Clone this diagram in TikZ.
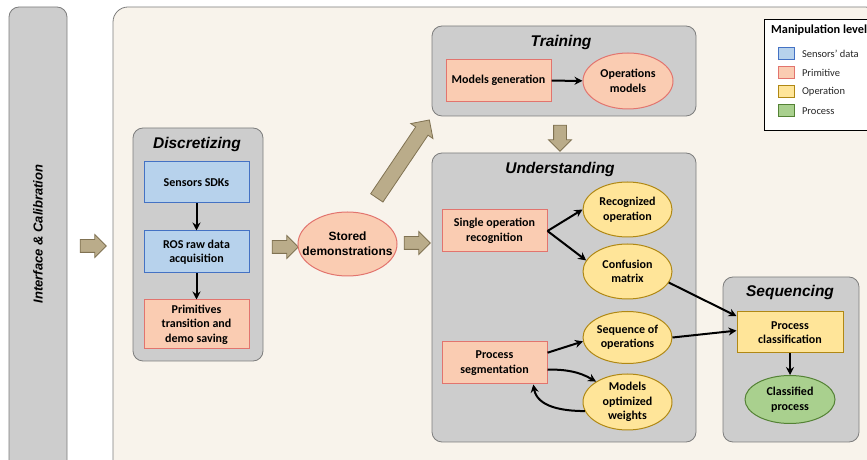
\documentclass[tikz,border=0pt]{standalone}
\usepackage{xcolor}
\usepackage{fontspec}
\setmainfont{Carlito}
\newfontfamily\headfont{Liberation Sans}
\usetikzlibrary{shapes.geometric, shapes.arrows, positioning, arrows.meta}

\definecolor{panelbg}{RGB}{248,243,235}
\definecolor{stagegray}{RGB}{205,205,205}
\definecolor{stageedge}{RGB}{125,125,125}
\definecolor{sensfill}{RGB}{183,210,236}
\definecolor{sensedge}{RGB}{68,114,196}
\definecolor{primfill}{RGB}{250,204,178}
\definecolor{primedge}{RGB}{226,116,110}
\definecolor{opfill}{RGB}{255,229,153}
\definecolor{opedge}{RGB}{176,136,20}
\definecolor{procfill}{RGB}{169,208,142}
\definecolor{procedge}{RGB}{84,130,53}
\definecolor{fatfill}{RGB}{186,172,138}
\definecolor{fatedge}{RGB}{128,114,82}

\tikzset{x=1pt, y=1pt,
         >={Stealth[length=8pt,width=8pt]},
         flow/.style={->, line width=2pt},
         stage/.style={draw=stageedge, fill=stagegray, rounded corners=10pt, line width=0.8pt},
         stagetitle/.style={font=\headfont\bfseries\itshape\fontsize{15.5}{16}\selectfont},
         box/.style={rectangle, line width=1pt, minimum width=105pt, minimum height=42pt,
                     align=center, inner sep=2pt, font=\bfseries\fontsize{12}{14.5}\selectfont},
         oval/.style={box, ellipse, minimum width=89pt, minimum height=55pt, inner sep=0pt},
         sensbox/.style={box, draw=sensedge, fill=sensfill},
         primbox/.style={box, draw=primedge, fill=primfill},
         opbox/.style={box, draw=opedge, fill=opfill},
         primoval/.style={oval, draw=primedge, fill=primfill},
         opoval/.style={oval, draw=opedge, fill=opfill},
         procoval/.style={oval, draw=procedge, fill=procfill},
         fat/.style={single arrow, draw=fatedge, fill=fatfill, line width=0.8pt,
                     minimum height=26pt, inner xsep=0pt, inner ysep=6pt,
                     single arrow head extend=5pt},
         swatch/.style={rectangle, line width=1pt, minimum width=16pt, minimum height=12pt, inner sep=0pt},
         legendtext/.style={anchor=west, font=\fontsize{10.5}{12}\selectfont, text=black!85},
         }

\begin{document}
\begin{tikzpicture}
    \useasboundingbox (0,0) rectangle (867,460);
    \clip (0,0) rectangle (867,460);

    % side bar and main panel
    \node[stage, minimum width=58pt, minimum height=463pt] (calib) at (38,221.5) {};
    \node[rotate=90, font=\headfont\bfseries\itshape\fontsize{13}{14}\selectfont] (calibtext) at (38,226) {Interface \& Calibration};
    \node[draw=stageedge, fill=panelbg, rounded corners=15pt, line width=0.8pt,
          minimum width=767pt, minimum height=468pt] (panel) at (496.5,219) {};

    % Discretizing
    \node[stage, minimum width=130pt, minimum height=233pt] (discr) at (198,215.5) {};
    \node[stagetitle] (discrtitle) at (197,316) {Discretizing};
    \node[sensbox, minimum height=41pt] (sdk) at (196.5,277.5) {Sensors SDKs};
    \node[sensbox] (ros) at (196.5,208) {ROS raw data\\acquisition};
    \node[primbox, minimum height=49pt] (prim) at (196.5,135.5) {Primitives\\transition and\\demo saving};
    \draw[flow] (sdk) -- (ros);
    \draw[flow] (ros) -- (prim);

    \node[fat] (tocalib) at (90,214) {};
    \node[fat] (todemo) at (282,213) {};
    \node[primoval, minimum width=99pt, minimum height=64pt, inner xsep=-10pt,
          font=\headfont\bfseries\fontsize{12}{15}\selectfont] (demo) at (347.5,216) {Stored\\demonstrations};
    \node[fat] (tounder) at (414,217) {};
    \node[fat, minimum height=94pt, inner ysep=7pt, single arrow head extend=6pt, rotate=56] (totrain) at (401,298) {};

    % Training
    \node[stage, minimum width=264pt, minimum height=90pt] (train) at (564,389) {};
    \node[stagetitle] (traintitle) at (561,418) {Training};
    \node[primbox] (modgen) at (498.5,379.5) {Models generation};
    \node[primoval, minimum width=90pt, minimum height=56pt] (opmodels) at (628,379) {Operations\\models};
    \draw[flow] (modgen) -- (opmodels);
    \node[fat, rotate=-90] (trainout) at (560,325) {};

    % Understanding
    \node[stage, minimum width=264pt, minimum height=289pt] (under) at (564,162.5) {};
    \node[stagetitle] (undertitle) at (560,291) {Understanding};
    \node[primbox] (single) at (494.5,229) {Single operation\\recognition};
    \node[opoval] (recog) at (627.5,250.5) {Recognized\\operation};
    \node[opoval] (confm) at (627.5,188.5) {Confusion\\matrix};
    \node[opoval, minimum height=52pt] (seqops) at (627.5,122.5) {Sequence of\\operations};
    \node[opoval, minimum height=56pt, inner ysep=-3pt] (weights) at (627.5,58) {Models\\optimized\\weights};
    \node[primbox] (procseg) at (494.5,97) {Process\\segmentation};
    \draw[flow] (single.east) -- (recog.west);
    \draw[flow] (single.east) -- (confm.165);
    \draw[flow] (procseg.11) -- (seqops.185);
    \draw[flow] (procseg.-7) to[out=0, in=150] (weights.147);
    \draw[flow] (weights.192) to[out=180, in=-80] (procseg.-29);

    % Sequencing
    \node[stage, minimum width=136pt, minimum height=165pt] (seqbox) at (791,100.5) {};
    \node[stagetitle] (seqtitle) at (790,168) {Sequencing};
    \node[opbox, minimum width=106pt, minimum height=41pt] (proccls) at (790,127.5) {Process\\classification};
    \node[procoval, minimum width=90pt, minimum height=48pt] (clsproc) at (790,60.5) {Classified\\process};
    \draw[flow] (confm.-15) -- (proccls.163);
    \draw[flow] (seqops.east) -- (proccls.178);
    \draw[flow] (proccls) -- (clsproc);

    % legend
    \node[draw=black, fill=white, line width=0.8pt, minimum width=116pt, minimum height=111pt] (legend) at (822,385.5) {};
    \node[anchor=west, font=\bfseries\fontsize{12.3}{13}\selectfont, inner sep=0pt] (legtitle) at (771,430) {Manipulation level};
    \node[swatch, draw=sensedge, fill=sensfill] (sw1) at (786,406) {};
    \node[swatch, draw=primedge, fill=primfill] (sw2) at (786,387) {};
    \node[swatch, draw=opedge, fill=opfill] (sw3) at (786,368) {};
    \node[swatch, draw=procedge, fill=procfill] (sw4) at (786,349) {};
    \node[legendtext, right=4pt of sw1] (lab1) {Sensors' data};
    \node[legendtext, right=4pt of sw2] (lab2) {Primitive};
    \node[legendtext, right=4pt of sw3] (lab3) {Operation};
    \node[legendtext, right=4pt of sw4] (lab4) {Process};
\end{tikzpicture}
\end{document}
